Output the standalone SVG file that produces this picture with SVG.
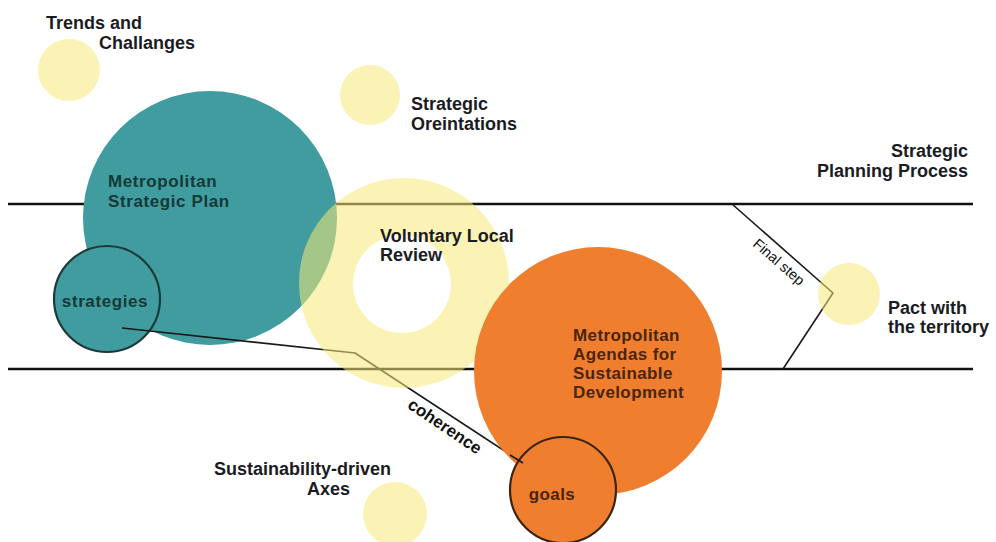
<svg xmlns="http://www.w3.org/2000/svg" width="996" height="542" viewBox="0 0 996 542">
<style>
.lbl{font-family:"Liberation Sans",Arial,sans-serif;font-weight:bold;font-size:18px;fill:#1b1b24}
.teal{fill:#409c9e}
.tealtxt{font-family:"Liberation Sans",Arial,sans-serif;font-weight:bold;font-size:17px;fill:#153838;letter-spacing:0.6px}
.orange{fill:#ef7f2e}
.oratxt{font-family:"Liberation Sans",Arial,sans-serif;font-weight:bold;font-size:17px;fill:#4a240c;letter-spacing:0.4px}
.yellow{fill:#f6ea78;fill-opacity:0.55}
.band{stroke:#111;stroke-width:2.5;fill:none}
.conn{stroke:#1a1a1a;stroke-width:1.6;fill:none;stroke-linejoin:round}
.ctxt{font-family:"Liberation Sans",Arial,sans-serif;font-size:17px;fill:#111}
.small{stroke-width:2.2}
</style>
<g id="band">
  <path class="band" d="M8 204 H973"/>
  <path class="band" d="M8 369 H973"/>
  <text class="lbl" x="968" y="157" text-anchor="end">Strategic</text>
  <text class="lbl" x="968" y="177" text-anchor="end">Planning Process</text>
</g>
<g id="metropolitan-strategic-plan">
  <circle class="teal" cx="210" cy="218" r="127"/>
  <text class="tealtxt" x="108" y="187">Metropolitan</text>
  <text class="tealtxt" x="108" y="207">Strategic Plan</text>
</g>
<g id="strategies">
  <circle class="teal small" cx="107" cy="299" r="53" stroke="#1d3a3a"/>
  <text class="tealtxt" x="105" y="307" text-anchor="middle">strategies</text>
</g>
<g id="connectors">
  <path class="conn" d="M122 328 L355 353 L523 463"/>
  <text class="ctxt" style="font-weight:bold" transform="translate(445,426) rotate(34)" x="0" y="6" text-anchor="middle">coherence</text>
  <path class="conn" d="M732 204 L833 293 L783 369"/>
  <text class="ctxt" style="font-size:14.5px" transform="translate(779,262) rotate(41)" x="0" y="5" text-anchor="middle">Final step</text>
</g>
<g id="trends-and-challanges">
  <circle class="yellow" cx="69" cy="70" r="31"/>
  <text class="lbl" x="46" y="29">Trends and</text>
  <text class="lbl" x="99" y="49">Challanges</text>
</g>
<g id="strategic-oreintations">
  <circle class="yellow" cx="370" cy="95" r="30"/>
  <text class="lbl" x="411" y="110">Strategic</text>
  <text class="lbl" x="411" y="130">Oreintations</text>
</g>
<g id="voluntary-local-review">
  <path class="yellow" fill-rule="evenodd" d="M299 283 A105 105 0 1 0 509 283 A105 105 0 1 0 299 283 Z M353 284 A49 49 0 1 1 451 284 A49 49 0 1 1 353 284 Z"/>
  <text class="lbl" x="380" y="242">Voluntary Local</text>
  <text class="lbl" x="380" y="261">Review</text>
</g>
<g id="sustainability-driven-axes">
  <circle class="yellow" cx="395" cy="514" r="32"/>
  <text class="lbl" x="214" y="475">Sustainability-driven</text>
  <text class="lbl" x="307" y="495">Axes</text>
</g>
<g id="pact-with-the-territory">
  <circle class="yellow" cx="849" cy="294" r="31"/>
  <text class="lbl" x="888" y="314">Pact with</text>
  <text class="lbl" x="888" y="333">the territory</text>
</g>
<g id="metropolitan-agendas">
  <circle class="orange" cx="598" cy="371" r="124"/>
  <text class="oratxt" x="573" y="341">Metropolitan</text>
  <text class="oratxt" x="573" y="360">Agendas for</text>
  <text class="oratxt" x="573" y="379">Sustainable</text>
  <text class="oratxt" x="573" y="398">Development</text>
</g>
<g id="goals">
  <circle class="orange small" cx="563" cy="490" r="53" stroke="#3b2413"/>
  <text class="oratxt" x="552" y="500" text-anchor="middle">goals</text>
</g>
<g id="coherence-end">
  <path class="conn" d="M510 455 L523 463"/>
</g>
</svg>
